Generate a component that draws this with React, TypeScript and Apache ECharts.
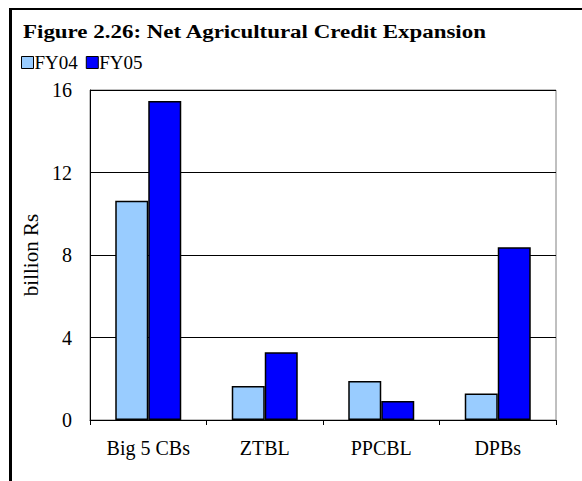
import React, { useEffect, useRef } from "react";
import * as echarts from "echarts";

const categories = ["Big 5 CBs", "ZTBL", "PPCBL", "DPBs"];
const fy04 = [10.63, 1.65, 1.89, 1.29];
const fy05 = [15.47, 3.28, 0.92, 8.37];
const seriesNames = ["FY04", "FY05"];
const titleText = "Figure 2.26: Net Agricultural Credit Expansion";
const yAxisName = "billion Rs";

const FONT = "'Liberation Serif', 'Times New Roman', serif";

export default function App() {
  const ref = useRef<HTMLDivElement>(null);
  useEffect(() => {
    if (!ref.current) return;
    const chart = echarts.init(ref.current, undefined, { renderer: "svg" });
    chart.setOption({
      animation: false,
      backgroundColor: "#ffffff",
      textStyle: { fontFamily: FONT, color: "#000" },
      graphic: [
        { type: "line", shape: { x1: 9, y1: 9, x2: 582, y2: 9 }, style: { stroke: "#000", lineWidth: 2 } },
        { type: "line", shape: { x1: 10.5, y1: 8, x2: 10.5, y2: 481 }, style: { stroke: "#000", lineWidth: 3 } },
        {
          type: "text",
          x: 23,
          y: 23,
          scaleX: 1.275,
          style: { text: titleText, font: `bold 18px ${FONT}`, fill: "#000", verticalAlign: "top" },
        },
      ],
      legend: {
        left: 21,
        top: 53,
        padding: 0,
        icon: "rect",
        itemWidth: 12,
        itemHeight: 12,
        itemGap: 8,
        textStyle: { fontFamily: FONT, fontSize: 19, color: "#000", padding: [0, 0, 0, -4] },
        itemStyle: { borderColor: "#000", borderWidth: 1 },
        data: seriesNames,
      },
      grid: {
        left: 90,
        right: 26,
        top: 90,
        bottom: 61,
        show: true,
        borderColor: "#808080",
        borderWidth: 1,
      },
      xAxis: {
        type: "category",
        data: categories,
        axisLine: { lineStyle: { color: "#000", width: 1 } },
        axisTick: { show: true, length: 5, lineStyle: { color: "#000" } },
        axisLabel: { fontFamily: FONT, fontSize: 20, color: "#000", margin: 18 },
      },
      yAxis: {
        type: "value",
        min: 0,
        max: 16,
        interval: 4,
        name: yAxisName,
        nameLocation: "middle",
        nameGap: 47,
        nameRotate: 90,
        nameTextStyle: { fontFamily: FONT, fontSize: 21, color: "#000" },
        axisLine: { show: true, lineStyle: { color: "#000", width: 1 } },
        axisTick: { show: false },
        axisLabel: { fontFamily: FONT, fontSize: 20, color: "#000", margin: 18 },
        splitLine: { show: true, lineStyle: { color: "#000", width: 1 } },
      },
      series: [
        {
          name: seriesNames[0],
          type: "bar",
          data: fy04,
          barWidth: 33,
          barGap: "0%",
          itemStyle: { color: "#99ccff", borderColor: "#000", borderWidth: 1.5 },
        },
        {
          name: seriesNames[1],
          type: "bar",
          data: fy05,
          barWidth: 33,
          barGap: "0%",
          itemStyle: { color: "#0000ff", borderColor: "#000", borderWidth: 1.5 },
        },
      ],
    });
    return () => chart.dispose();
  }, []);
  return (
    <div
      ref={ref}
      style={{ position: "absolute", left: 0, top: 0, width: 582, height: 481 }}
    />
  );
}
